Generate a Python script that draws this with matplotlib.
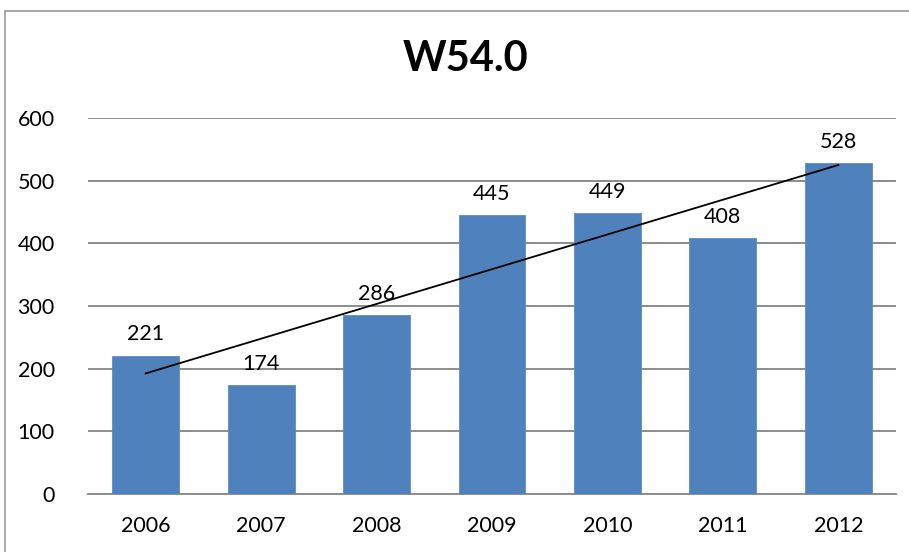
import matplotlib.pyplot as plt
import numpy as np

years = ["2006", "2007", "2008", "2009", "2010", "2011", "2012"]
counts = [221, 174, 286, 445, 449, 408, 528]
y_ticks = [0, 100, 200, 300, 400, 500, 600]

plt.rcParams["font.family"] = ["Lato", "DejaVu Sans"]

W, H = 909, 552
fig = plt.figure(figsize=(W / 100, H / 100), dpi=100)
ax = fig.add_axes([88 / W, 1 - 494 / H, (896 - 88) / W, (494 - 118) / H])

x = np.arange(len(years))
ax.bar(x, counts, width=0.58, color="#4F81BD", edgecolor="#5B8CC6", linewidth=0.6, zorder=3)

for xi, v in zip(x, counts):
    ax.annotate(str(v), (xi, v), xytext=(0, 8), textcoords="offset points",
                ha="center", va="bottom", fontsize=15.5, color="black", zorder=5)

# linear trend line, fitted to the counts
slope, intercept = np.polyfit(x, counts, 1)
ax.plot(x[[0, -1]], intercept + slope * x[[0, -1]], color="black", lw=1.3, zorder=4)

ax.set_xlim(-0.5, len(years) - 0.5)
ax.set_ylim(0, 600)
ax.set_yticks(y_ticks)
ax.set_xticks(x)
ax.set_xticklabels(years)
ax.yaxis.grid(True, color="#8C8C8C", lw=1.4, zorder=0)
ax.set_axisbelow(True)
ax.tick_params(axis="both", length=0, labelsize=15.5)
ax.tick_params(axis="y", pad=24)
ax.tick_params(axis="x", pad=16)
for side in ["top", "right", "left"]:
    ax.spines[side].set_visible(False)
ax.spines["bottom"].set_color("#8C8C8C")
ax.spines["bottom"].set_linewidth(1.4)

fig.text(466 / W, 1 - 59 / H, "W54.0", ha="center", va="center",
         fontsize=30, fontweight="bold")

# outer chart border
border = plt.Rectangle((5 / W, -0.05), 1.1, 1 - 11 / H + 0.05, transform=fig.transFigure,
                       fill=False, edgecolor="#999999", lw=1.2)
fig.add_artist(border)

fig.savefig("out.png", dpi=100)
